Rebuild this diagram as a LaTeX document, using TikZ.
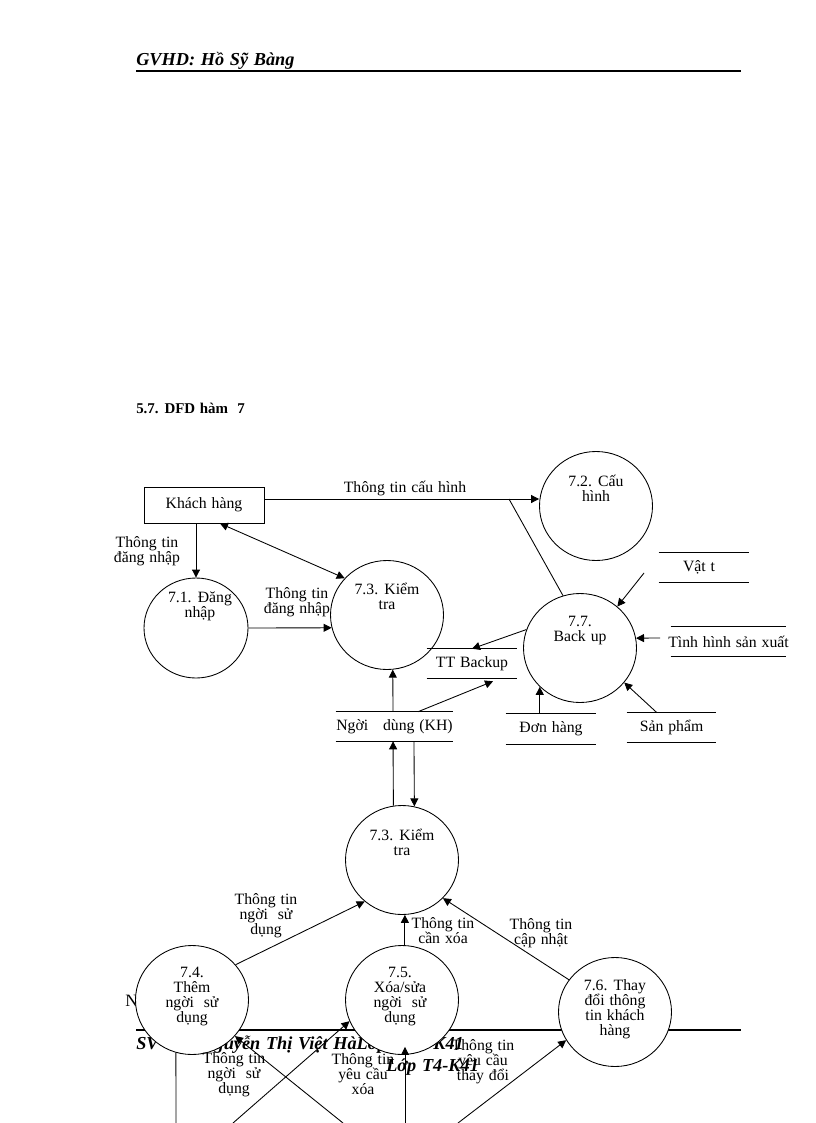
\documentclass[tikz,border=0pt]{standalone}
\usepackage{fontspec}
\setmainfont{Liberation Serif}[WordSpace=1.25]
\usetikzlibrary{arrows.meta}
\usetikzlibrary{shapes.geometric}
\newcommand{\px}{.75pt}

\begin{document}
\begin{tikzpicture}[x=.75pt,y=-.75pt,
    txt/.style={font=\fontsize{11.8}{11.25}\selectfont,align=center,inner sep=0pt},
    head/.style={font=\fontsize{13.7}{15}\selectfont\bfseries\itshape,inner sep=0pt},
    proc/.style={ellipse,draw,fill=white,inner sep=0pt,line width=.65pt,
      minimum width=113*\px,minimum height=109*\px},
    store/.style={txt,minimum width=#1*\px,minimum height=29*\px},
    arr/.style={-{Triangle[length=6pt,width=6pt]},line width=.65pt},
    darr/.style={{Triangle[length=6pt,width=6pt]}-{Triangle[length=6pt,width=6pt]},line width=.65pt},
    flow/.style={line width=.65pt}]
  \useasboundingbox (0,0) rectangle (816,1123);

  %% page head and foot, under the diagram
  \node[head,anchor=base west] (gvhd) at (136,66) {GVHD: Hồ Sỹ Bàng};
  \draw[line width=1.5pt] (136,71.5)--(741,71.5);
  \node[txt,font=\fontsize{11.2}{11.25}\selectfont\bfseries,anchor=base west] (title) at (136,413) {5.7. DFD hàm \ 7};
  \node[txt,font=\fontsize{13}{15}\selectfont,anchor=base west] (nn) at (125,1006) {N};
  \draw[line width=2.2pt] (136,1030)--(741,1030);
  \node[head,anchor=base west] (svten) at (136,1049) {SV TH: Nguyễn Thị Việt HàLớp\hspace{35pt}K41};
  \node[head,anchor=base west] (svlop) at (386,1071) {Lớp T4-K41};

  %% processes
  \node[proc,minimum width=104*\px,minimum height=100*\px,
    label={[txt,xshift=3pt,yshift=16.6pt]center:{7.1. Đăng\\nhập}}] (p71) at (196,628) {};
  \node[proc,label={[txt,yshift=13.6pt]center:{7.2. Cấu\\hình}}] (p72) at (596,506) {};
  \node[proc,label={[txt,yshift=13.6pt]center:{7.3. Kiểm\\tra}}] (p73) at (387,615) {};
  \node[proc,label={[txt,yshift=13pt]center:{7.7.\\Back up}}] (p77) at (580,648) {};
  \node[proc,label={[txt,yshift=13.6pt]center:{7.3. Kiểm\\tra}}] (p73b) at (402,860) {};
  \node[proc,label={[txt,yshift=2.4pt]center:{7.4.\\Thêm\\ngời\ \ sử\\dụng}}] (p74) at (192,1000) {};
  \node[proc,label={[txt,xshift=-1.5pt,yshift=2.4pt]center:{7.5.\\Xóa/sửa\\ngời\ \ sử\\dụng}}] (p75) at (402,1000) {};
  \node[proc,label={[txt,yshift=2pt]center:{7.6. Thay\\đổi thông\\tin khách\\hàng}}] (p76) at (615,1012) {};

  %% entity and stores
  \node[txt,draw,line width=.65pt,minimum width=120*\px,minimum height=36*\px] (kh) at (204,505) {Khách hàng};
  \node[store=117] (snd) at (394.5,726.5) {Ngời\ \ \ dùng (KH)};
  \node[store=90] (sbak) at (472,663.5) {TT Backup};
  \node[store=90] (svt) at (704,567.5) {Vật t\hspace*{7.5pt}};
  \node[store=115] (stt) at (728.5,641.5) {\makebox[0pt]{Tình hình sản xuất}};
  \node[store=90,minimum height=30*\px] (sdh) at (551,729) {Đơn hàng};
  \node[store=89] (ssp) at (671.5,727.5) {Sản phẩm};
  \foreach \s in {snd,sbak,svt,stt,sdh,ssp} {
    \draw[flow] (\s.north west)--(\s.north east);
    \draw[flow] (\s.south west)--(\s.south east);
  }

  %% free ends
  \coordinate (jch) at (509,499);
  \coordinate (evt) at (644,573);
  \coordinate (ett) at (660,638);
  \coordinate (b74) at (176,1123);
  \coordinate (b75) at (233,1123);
  \coordinate (b74b) at (343,1123);
  \coordinate (b75b) at (405,1123);
  \coordinate (b76) at (458,1123);

  %% upper flows
  \draw[arr] ([yshift=4.5pt]kh.east)--([yshift=5.25pt]p72.west);
  \draw[flow] (p77.108)--(jch);
  \draw[arr] (p71.north |- kh.south)--(p71.north);
  \draw[darr] ([xshift=12pt]kh.south)--(p73.139);
  \draw[arr] (p71.east)--(p73.193);
  \draw[arr] ([xshift=-1.1pt]snd.north)--(p73.-84);
  \draw[arr] ([xshift=17.6pt]snd.north)--([xshift=15.75pt,yshift=-2.25pt]sbak.south);
  \draw[arr] (p77.161)--(sbak.north);
  \draw[arr] (evt)--(p77.48);
  \draw[arr] (ett)--(p77.10);
  \draw[arr] (p77.224 |- sdh.north)--(p77.224);
  \draw[arr] ([xshift=-10.9pt]ssp.north)--(p77.-38);

  %% between store and lower circle
  \draw[arr] (p73b.99)--([xshift=-1.1pt]snd.south);
  \draw[arr] ([xshift=14.6pt]snd.south)--(p73b.77);

  %% lower flows
  \draw[arr] (p74.39)--(p73b.228);
  \draw[arr] (p75.87)--(p73b.-87);
  \draw[arr] (p76.145)--(p73b.-43);
  \draw[flow] (p74.253)--(b74);
  \draw[arr] (b75)--(p75.202);
  \draw[arr] (b74b)--(p74.-40);
  \draw[arr] (b75b)--([xshift=2.25pt,yshift=6pt]p75.south);
  \draw[arr] (b76)--(p76.210);

  %% flow labels
  \node[txt] (lcfg) at (405,488) {Thông tin cấu hình};
  \node[txt] (llog) at (147,551) {Thông tin\\đăng nhập};
  \node[txt] (llogb) at (297,602) {Thông tin\\đăng nhập};
  \node[txt] (lnsd) at (266,916) {Thông tin\\ngời\ \ sử\\dụng};
  \node[txt] (lxoa) at (443,931) {Thông tin\\cần xóa};
  \node[txt] (lcap) at (541,933) {Thông tin\\cập nhật};
  \node[txt] (lnsdb) at (234,1074.5) {Thông tin\\ngời\ \ sử\\dụng};
  \node[txt] (lyc) at (363,1074) {Thông tin\\yêu cầu\\xóa};
  \node[txt] (lyct) at (483,1061.5) {Thông tin\\yêu cầu\\thay\ đổi};
\end{tikzpicture}
\end{document}
